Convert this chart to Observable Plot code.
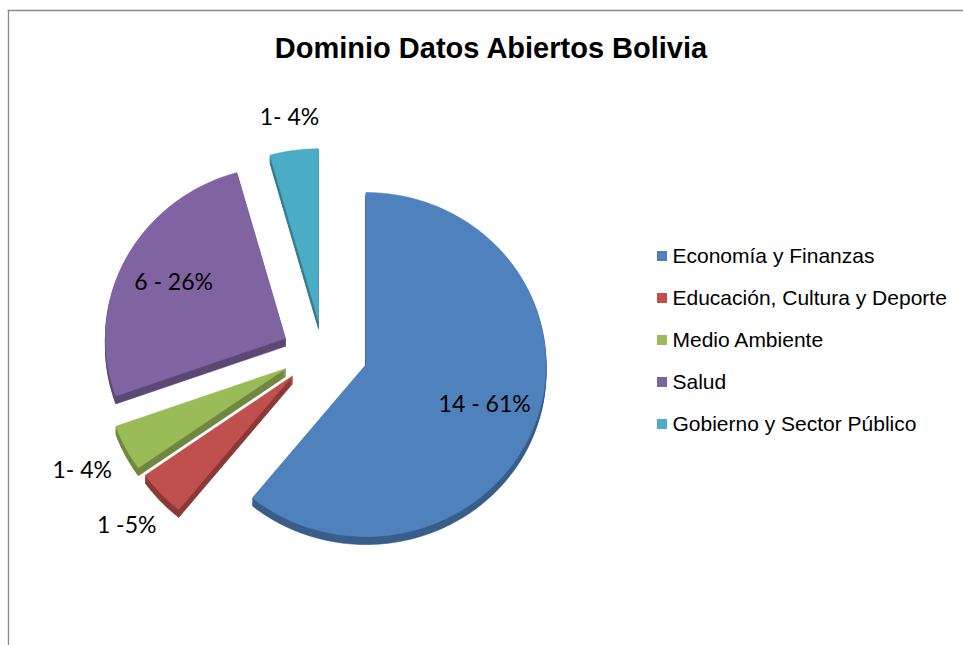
<!DOCTYPE html>
<html><head><meta charset="utf-8">
<script src="https://cdn.jsdelivr.net/npm/d3@7"></script>
<script src="https://cdn.jsdelivr.net/npm/@observablehq/plot@0.6"></script>
<style>body{margin:0;background:#fff}#chart{width:963px;height:645px}</style>
</head><body><div id="chart"></div>
<script>
// ---- data ----
const title = "Dominio Datos Abiertos Bolivia";
const categories = ["Economía y Finanzas", "Educación, Cultura y Deporte", "Medio Ambiente", "Salud", "Gobierno y Sector Público"];
const counts = [14, 1, 1, 6, 1];
const labels = ["14 - 61%", "1 -5%", "1- 4%", "6 - 26%", "1- 4%"];
const colors = ["#4F81BD", "#C0504D", "#9BBB59", "#8064A2", "#4BACC6"];

// ---- layout ----
const W = 963, H = 645;
const G = {cx: 324, cy: 353, rx: 180, ry: 172, explode: 44, explodeK: 0.75, depth: 8};
const total = d3.sum(counts);
const arcs = d3.pie().sort(null).value(d => d)(counts);

const slices = arcs.map((p, i) => {
  const mid = (p.startAngle + p.endAngle) / 2;
  return {
    i, mid, a0: p.startAngle, a1: p.endAngle,
    vx: G.cx + G.explode * Math.sin(mid),
    vy: G.cy - G.explode * G.explodeK * Math.cos(mid)
  };
});

function outline(s, dy) {
  const pts = [[s.vx, s.vy + dy]];
  const n = Math.max(3, Math.ceil((s.a1 - s.a0) / (Math.PI / 180)));
  for (let k = 0; k <= n; k++) {
    const a = s.a0 + (s.a1 - s.a0) * k / n;
    pts.push([s.vx + G.rx * Math.sin(a), s.vy - G.ry * Math.cos(a) + dy]);
  }
  pts.push([s.vx, s.vy + dy]);
  return pts;
}

const order = slices.slice().sort((a, b) => a.vy - b.vy);
const rows = [];
for (const s of order) {
  const side = d3.color(colors[s.i]).darker(0.9).formatHex();
  for (let d = G.depth; d >= 1; d--) {
    for (const [x, y] of outline(s, d)) rows.push({x, y, key: `${s.i}-${d}`, fill: side});
  }
  for (const [x, y] of outline(s, 0)) rows.push({x, y, key: `${s.i}-top`, fill: colors[s.i]});
}

function labelPos(s) {
  const sx = Math.sin(s.mid), sy = -Math.cos(s.mid);
  if (counts[s.i] / total > 0.1) return {x: s.vx + 0.7 * G.rx * sx, y: s.vy + 0.7 * G.ry * sy};
  const ax = s.vx + G.rx * sx, ay = s.vy + G.ry * sy;
  const ext = 18 + 29 * Math.abs(sx) + 11 * Math.abs(sy);
  return {x: ax + ext * sx, y: ay + ext * sy};
}
const labelRows = slices.map(s => ({...labelPos(s), text: labels[s.i]}));

const legend = {x: 657, size: 10, y0: 256, step: 42, textX: 672};
const legendRows = categories.map((c, i) => ({name: c, color: colors[i], y: legend.y0 + legend.step * i}));

const chart = Plot.plot({
  width: W, height: H, margin: 0,
  x: {domain: [0, W], axis: null},
  y: {domain: [H, 0], axis: null},
  color: {type: "identity"},
  style: {background: "#fff"},
  marks: [
    Plot.frame({anchor: "top", insetTop: 10, insetLeft: 8, stroke: "#8a8a8a", strokeWidth: 1.3}),
    Plot.frame({anchor: "left", insetTop: 10, insetLeft: 8, stroke: "#8a8a8a", strokeWidth: 1.3}),
    Plot.line(rows, {x: "x", y: "y", z: "key", fill: "fill", stroke: "fill", strokeWidth: 0.6, curve: "linear"}),
    Plot.text(labelRows, {x: "x", y: "y", text: "text", fontSize: 23, fontFamily: "Lato, 'Open Sans', sans-serif", fill: "#000", lineAnchor: "middle"}),
    Plot.text([title], {frameAnchor: "top", dx: 9, dy: 37, fontSize: 29, fontWeight: "bold", fontFamily: "'Liberation Sans', Arial, sans-serif", fill: "#000", lineAnchor: "top"}),
    Plot.rect(legendRows, {x1: d => legend.x, x2: d => legend.x + legend.size, y1: d => d.y - legend.size / 2, y2: d => d.y + legend.size / 2, fill: "color"}),
    Plot.text(legendRows, {x: d => legend.textX, y: "y", text: "name", textAnchor: "start", fontSize: 21, fontFamily: "'Liberation Sans', Arial, sans-serif", fill: "#000", lineAnchor: "middle"})
  ]
});
document.getElementById("chart").append(chart);
</script>
</body></html>
